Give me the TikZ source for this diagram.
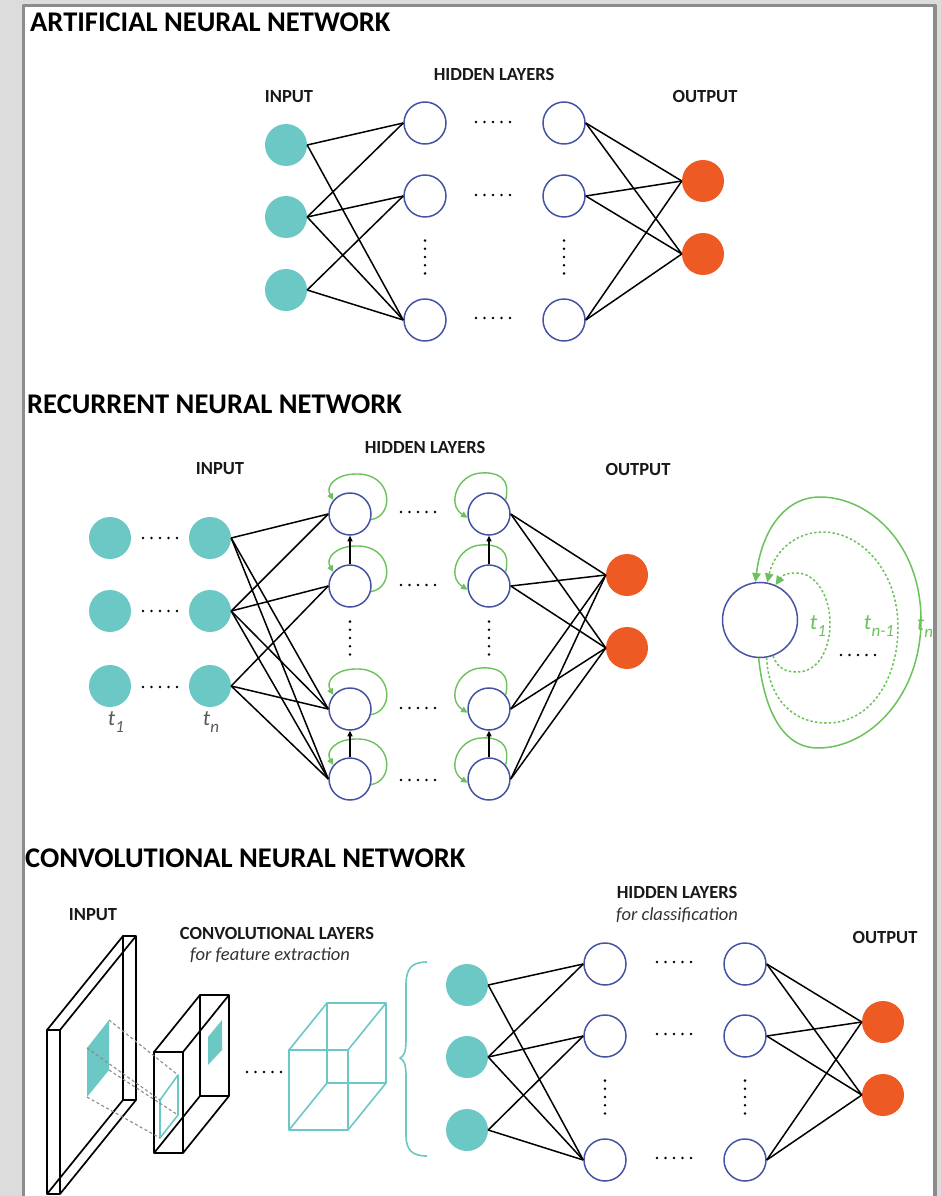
\documentclass[tikz,border=0pt]{standalone}
\usepackage{fontspec}
\setmainfont{Carlito}
\usetikzlibrary{arrows.meta,calc}

\definecolor{nnteal}{HTML}{6CC8C4}
\definecolor{nnorange}{HTML}{EE5A24}
\definecolor{nnblue}{HTML}{4553A3}
\definecolor{nngreen}{HTML}{6CC15C}
\definecolor{framegray}{HTML}{8C8C8C}
\definecolor{pagegray}{HTML}{DCDCDC}
\definecolor{inkgray}{HTML}{5A5A5A}
\definecolor{dashgray}{HTML}{8A8A8A}

% rows and columns of five small dots
\newcommand\dotrow[2]{\foreach \k in {-2,...,2}{\fill ({#1+\k*8.5},{#2}) circle[radius=1.4];}}
\newcommand\dotcol[2]{\foreach \k in {-2,...,2}{\fill ({#1},{#2+\k*8.2}) circle[radius=1.4];}}
% time step label: t with a lowered index
\newcommand\tstep[1]{t\kern0.2pt\raisebox{-0.32em}{\fontsize{17}{17}\selectfont #1}}
% recurrent self loops: one entering from the upper left, one from the left
\newcommand\selfloopA[1]{\draw[gloop] (#1.-15) .. controls ($(#1)+(45,2)$) and ($(#1)+(43,-41)$) .. ($(#1)+(6,-40)$) .. controls ($(#1)+(-14,-40)$) and ($(#1)+(-25,-28)$) .. (#1.140);}
\newcommand\selfloopB[1]{\draw[gloop] (#1.40) .. controls ($(#1)+(22,-37)$) and ($(#1)+(8,-42)$) .. ($(#1)+(-8,-41)$) .. controls ($(#1)+(-31,-40)$) and ($(#1)+(-43,-10)$) .. (#1.190);}

\tikzset{
  inp/.style={circle, fill=nnteal, minimum size=42pt, inner sep=0pt},
  hid/.style={circle, draw=nnblue, fill=white, line width=1.5pt, minimum size=42pt, inner sep=0pt},
  outp/.style={circle, fill=nnorange, minimum size=42pt, inner sep=0pt},
  link/.style={line width=1.5pt},
  gloop/.style={draw=nngreen, line width=1.4pt, -{Triangle[length=6.5pt,width=6pt]}},
  riser/.style={line width=1.3pt, -{Triangle[length=5.5pt,width=5pt]}},
  ttl/.style={font=\fontsize{28.5}{30}\selectfont\bfseries, anchor=west, inner sep=0pt},
  lbl/.style={font=\fontsize{18.5}{20}\selectfont\bfseries, inner sep=0pt, text=black!90},
  note/.style={font=\fontsize{18.5}{20}\selectfont\itshape, inner sep=0pt, text=black!80},
  tlbl/.style={font=\fontsize{22}{24}\selectfont\itshape, inner sep=0pt, text=inkgray},
  glbl/.style={font=\fontsize{22}{24}\selectfont\itshape, inner sep=0pt, text=nngreen},
  wire/.style={line width=1.7pt},
  tealwire/.style={draw=nnteal, line width=1.6pt},
  proj/.style={draw=dashgray, line width=1.1pt, dash pattern=on 3pt off 2.5pt},
  garc/.style={draw=nngreen, line width=1.5pt, -{Triangle[length=9pt,width=8.5pt]}},
  gdot/.style={garc, dash pattern=on 2.4pt off 2.2pt},
}

\begin{document}
\begin{tikzpicture}[x=1pt, y=-1pt, line join=round]
\useasboundingbox (0,0) rectangle (941,1196);
\fill[pagegray] (0,0) rectangle (941,1196);
\fill[white] (23.5,5.5) rectangle (935,1196);

% ================= artificial neural network =================
\node[ttl] (ann-title) at (30,22) {ARTIFICIAL NEURAL NETWORK};
\node[lbl] (ann-in-lbl) at (289,97) {INPUT};
\node[lbl] (ann-hid-lbl) at (494,74) {HIDDEN LAYERS};
\node[lbl] (ann-out-lbl) at (705,97) {OUTPUT};

\node[inp] (a-i1) at (286,145) {};
\node[inp] (a-i2) at (286,217) {};
\node[inp] (a-i3) at (286,290) {};
\node[hid] (a-h1) at (425,123) {};
\node[hid] (a-h2) at (425,196) {};
\node[hid] (a-h3) at (425,320) {};
\node[hid] (a-g1) at (564,123) {};
\node[hid] (a-g2) at (564,196) {};
\node[hid] (a-g3) at (564,320) {};
\node[outp] (a-o1) at (703,181) {};
\node[outp] (a-o2) at (703,254) {};

\foreach \a/\b in {a-i1/a-h1, a-i1/a-h3, a-i2/a-h1, a-i2/a-h2, a-i2/a-h3, a-i3/a-h2, a-i3/a-h3,
                   a-g1/a-o1, a-g1/a-o2, a-g2/a-o1, a-g2/a-o2, a-g3/a-o1, a-g3/a-o2}
  \draw[link] (\a.east) -- (\b.west);

\dotrow{493}{122} \dotrow{493}{195} \dotrow{493}{318}
\dotcol{425}{257} \dotcol{564}{257}

% ================= recurrent neural network =================
\node[ttl] (rnn-title) at (27,404) {RECURRENT NEURAL NETWORK};
\node[lbl] (rnn-in-lbl) at (220,469) {INPUT};
\node[lbl] (rnn-hid-lbl) at (425,447) {HIDDEN LAYERS};
\node[lbl] (rnn-out-lbl) at (638,469) {OUTPUT};

\node[inp] (r-f1) at (110,538) {};
\node[inp] (r-f2) at (110,611) {};
\node[inp] (r-f3) at (110,686) {};
\node[inp] (r-i1) at (210,538) {};
\node[inp] (r-i2) at (210,611) {};
\node[inp] (r-i3) at (210,686) {};
\node[tlbl] (r-t1) at (116,722) {\tstep{1}};
\node[tlbl] (r-tn) at (211,722) {\tstep{n}};

\node[hid] (r-h1) at (350,514) {};
\node[hid] (r-h2) at (350,586) {};
\node[hid] (r-h3) at (350,709) {};
\node[hid] (r-h4) at (350,779) {};
\node[hid] (r-g1) at (489,514) {};
\node[hid] (r-g2) at (489,586) {};
\node[hid] (r-g3) at (489,709) {};
\node[hid] (r-g4) at (489,779) {};
\node[outp] (r-o1) at (627,575) {};
\node[outp] (r-o2) at (627,648) {};

\foreach \a/\b in {r-i1/r-h1, r-i1/r-h3, r-i1/r-h4,
                   r-i2/r-h1, r-i2/r-h2, r-i2/r-h3, r-i2/r-h4,
                   r-i3/r-h2, r-i3/r-h3, r-i3/r-h4,
                   r-g1/r-o1, r-g1/r-o2, r-g2/r-o1, r-g2/r-o2,
                   r-g3/r-o1, r-g3/r-o2, r-g4/r-o1, r-g4/r-o2}
  \draw[link] (\a.east) -- (\b.west);

\foreach \n in {r-h1,r-h2,r-h3,r-h4} {\selfloopA{\n}}
\foreach \n in {r-g1,r-g2,r-g3,r-g4} {\selfloopB{\n}}
\foreach \a/\b in {r-h2/r-h1, r-h4/r-h3, r-g2/r-g1, r-g4/r-g3}
  \draw[riser] (\a.north) -- (\b.south);

\dotrow{160}{538} \dotrow{160}{611} \dotrow{160}{687}
\dotrow{418}{512} \dotrow{418}{585} \dotrow{418}{708} \dotrow{418}{780}
\dotcol{350}{638} \dotcol{489}{638}

% unrolled recurrence over the time steps
\node[hid, minimum size=75pt] (bigc) at (760,620) {};
\draw[garc] (bigc.-92) .. controls (763,700) and (778,748) .. (818,748)
  .. controls (870,748) and (921,695) .. (921,620)
  .. controls (921,545) and (870,497) .. (820,497)
  .. controls (785,497) and (762,530) .. (bigc.97);
\draw[gdot] (bigc.-80) .. controls (768,695) and (790,723) .. (827,723)
  .. controls (870,723) and (898,680) .. (898,627)
  .. controls (898,570) and (860,532) .. (823,532)
  .. controls (795,532) and (774,552) .. (bigc.79);
\draw[gdot] (bigc.-70) .. controls (778,670) and (788,672) .. (797,672)
  .. controls (818,672) and (830,650) .. (830,623)
  .. controls (830,595) and (815,573) .. (797,573)
  .. controls (789,573) and (783,574) .. (bigc.66);
\node[glbl] (lbl-t1) at (818,626) {\tstep{1}};
\node[glbl] (lbl-tn1) at (879,626) {\tstep{n-1}};
\node[glbl] (lbl-tn) at (925,627) {\tstep{n}};
\dotrow{858}{655}

% ================= convolutional neural network =================
\node[ttl] (cnn-title) at (25,858) {CONVOLUTIONAL NEURAL NETWORK};
\node[lbl] (cnn-in-lbl) at (93,915) {INPUT};
\node[lbl] (cnn-conv-lbl) at (277,933) {CONVOLUTIONAL LAYERS};
\node[note] (cnn-conv-note) at (270,955) {for feature extraction};
\node[lbl] (cnn-hid-lbl) at (677,892) {HIDDEN LAYERS};
\node[note] (cnn-hid-note) at (677,915) {for classification};
\node[lbl] (cnn-out-lbl) at (885,937) {OUTPUT};

% input image slab
\fill[nnteal] (87,1048) -- (109,1020) -- (109,1070) -- (87,1097) -- cycle;
\draw[wire] (47,1030) rectangle (60,1194);
\draw[wire] (123,936) rectangle (136,1100);
\draw[wire] (47,1030) -- (123,936) (60,1030) -- (136,936)
            (47,1194) -- (123,1100) (60,1194) -- (136,1100);

% first feature map
\fill[nnteal] (208,1037) -- (222,1020) -- (222,1050) -- (208,1065) -- cycle;
\draw[wire] (154,1052) rectangle (183,1153);
\draw[wire] (200,995) rectangle (229,1096);
\draw[wire] (154,1052) -- (200,995) (183,1052) -- (229,995)
            (154,1153) -- (200,1096) (183,1153) -- (229,1096);
\draw[tealwire] (160,1100) -- (178,1075) -- (178,1115) -- (160,1138) -- cycle;

% receptive field projection
\draw[proj] (109,1020) -- (178,1075);
\draw[proj] (87,1048) -- (160,1100);
\draw[proj] (87,1097) -- (160,1138);
\draw[proj] (109,1070) -- (178,1115);

\dotrow{264}{1072}

% last feature volume
\draw[tealwire] (289,1050) rectangle (348,1130);
\draw[tealwire] (327,1003) rectangle (386,1083);
\draw[tealwire] (289,1050) -- (327,1003) (348,1050) -- (386,1003)
                (289,1130) -- (327,1083) (348,1130) -- (386,1083);

% flattening brace
\draw[tealwire] (427,962) .. controls (412,962) and (406,968) .. (406,985) -- (406,1040)
  .. controls (406,1052) and (404,1056) .. (400,1058)
  .. controls (404,1060) and (406,1064) .. (406,1076) -- (406,1135)
  .. controls (406,1150) and (412,1156) .. (427,1156);

\node[inp] (c-i1) at (467,985) {};
\node[inp] (c-i2) at (467,1057) {};
\node[inp] (c-i3) at (467,1130) {};
\node[hid] (c-h1) at (605,964) {};
\node[hid] (c-h2) at (605,1036) {};
\node[hid] (c-h3) at (605,1160) {};
\node[hid] (c-g1) at (745,964) {};
\node[hid] (c-g2) at (745,1036) {};
\node[hid] (c-g3) at (745,1160) {};
\node[outp] (c-o1) at (883,1022) {};
\node[outp] (c-o2) at (883,1095) {};

\foreach \a/\b in {c-i1/c-h1, c-i1/c-h3, c-i2/c-h1, c-i2/c-h2, c-i2/c-h3, c-i3/c-h2, c-i3/c-h3,
                   c-g1/c-o1, c-g1/c-o2, c-g2/c-o1, c-g2/c-o2, c-g3/c-o1, c-g3/c-o2}
  \draw[link] (\a.east) -- (\b.west);

\dotrow{674}{962} \dotrow{674}{1034} \dotrow{674}{1158}
\dotcol{605}{1097} \dotcol{745}{1097}

% page frame
\fill[pagegray] (936.5,0) rectangle (941,1196);
\draw[framegray, line width=3.5pt] (23.5,1200) -- (23.5,5.5) -- (935,5.5) -- (935,1200);
\end{tikzpicture}
\end{document}
